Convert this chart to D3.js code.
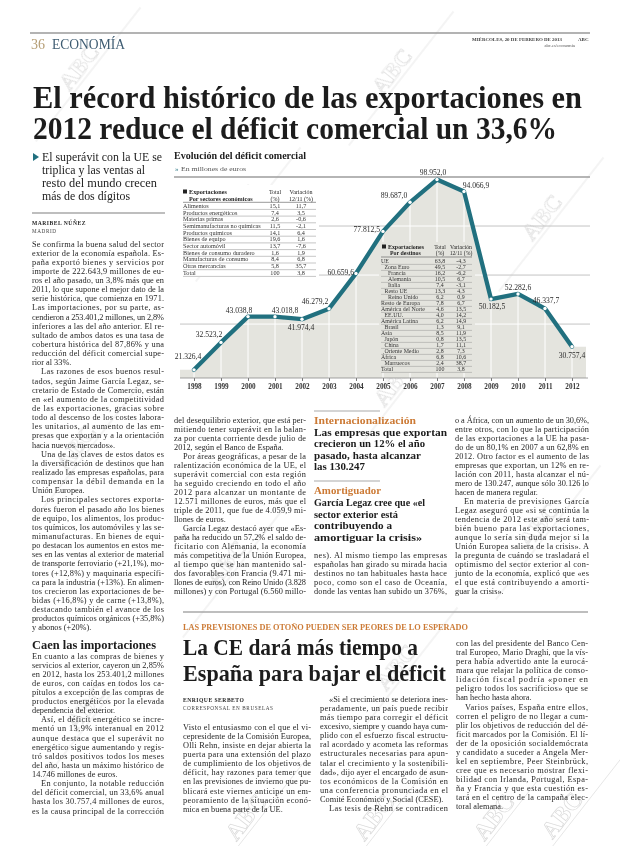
<!DOCTYPE html>
<html><head><meta charset="utf-8">
<script src="https://cdn.jsdelivr.net/npm/d3@7"></script>
<style>html,body{margin:0;padding:0;background:#fff}svg{display:block}</style>
</head><body>
<script>
// ---------------- DATA ----------------
const years = [1998,1999,2000,2001,2002,2003,2004,2005,2006,2007,2008,2009,2010,2011,2012];
const deficit = [21326.4,32523.2,43038.8,43018.8,41974.4,46279.2,60659.6,77812.5,89687.0,98952.0,94066.9,50182.5,52282.6,46337.7,30757.4];
const gridValues = [40000,60000,80000,100000];

const sectors = ["Alimentos","Productos energéticos","Materias primas","Semimanufacturas no químicas","Productos químicos","Bienes de equipo","Sector automóvil","Bienes de consumo duradero","Manufacturas de consumo","Otras mercancías","Total"];
const sectorShare = [15.1,7.4,2.6,11.5,14.1,19.6,13.7,1.6,8.4,5.8,100];
const sectorChange = [11.7,3.5,-0.6,-2.1,6.4,1.6,-7.6,1.9,6.8,35.7,3.8];

const destinations = ["UE","Zona Euro","Francia","Alemania","Italia","Resto UE","Reino Unido","Resto de Europa","América del Norte","EE.UU.","América Latina","Brasil","Asia","Japón","China","Oriente Medio","África","Marruecos","Total"];
const destShare = [63.8,49.5,16.2,10.5,7.4,13.3,6.2,7.8,4.6,4.0,6.2,1.3,8.5,0.8,1.7,2.8,6.8,2.4,100];
const destChange = [-4.3,-2.7,-6.2,6.7,-3.1,4.3,0.9,6.7,13.5,14.2,14.9,9.1,11.9,13.5,11.1,7.3,10.6,38.7,3.8];
const destLevel = [0,1,2,2,2,1,2,0,0,1,0,1,0,1,1,1,0,1,0];

// ---------------- TEXT ----------------
const colLeft1 = [
"Se confirma la buena salud del sector","exterior de la economía española. Es-","paña exportó bienes y servicios por","importe de 222.643,9 millones de eu-","ros el año pasado, un 3,8% más que en","2011, lo que supone el mejor dato de la","serie histórica, que comienza en 1971.","Las importaciones, por su parte, as-","cendieron a 253.401,2 millones, un 2,8%","inferiores a las del año anterior. El re-","sultado de ambos datos es una tasa de","cobertura histórica del 87,86% y una","reducción del déficit comercial supe-","rior al 33%.¶",
">Las razones de esos buenos resul-","tados, según Jaime García Legaz, se-","cretario de Estado de Comercio, están","en «el aumento de la competitividad","de las exportaciones, gracias sobre","todo al descenso de los costes labora-","les unitarios, al aumento de las em-","presas que exportan y a la orientación","hacia nuevos mercados».¶",
">Una de las claves de estos datos es","la diversificación de destinos que han","realizado las empresas españolas, para","compensar la débil demanda en la","Unión Europea.¶",
">Los principales sectores exporta-","dores fueron el pasado año los bienes","de equipo, los alimentos, los produc-","tos químicos, los automóviles y las se-","mimanufacturas. En bienes de equi-","po destacan los aumentos en estos me-","ses en las ventas al exterior de material","de transporte ferroviario (+21,1%), mo-","tores (+12,8%) y maquinaria específi-","ca para la industria (+13%). En alimen-","tos crecieron las exportaciones de be-","bidas (+16,8%) y de carne (+13,8%),","destacando también el avance de los","productos químicos orgánicos (+35,8%)","y abonos (+20%).¶"];
const colLeft2 = [
"En cuanto a las compras de bienes y","servicios al exterior, cayeron un 2,85%","en 2012, hasta los 253.401,2 millones","de euros, con caídas en todos los ca-","pítulos a excepción de las compras de","productos energéticos por la elevada","dependencia del exterior.¶",
">Así, el déficit energético se incre-","mentó un 13,9% interanual en 2012","aunque destaca que el superávit no","energético sigue aumentando y regis-","tró saldos positivos todos los meses","del año, hasta un máximo histórico de","14.746 millones de euros.¶",
">En conjunto, la notable reducción","del déficit comercial, un 33,6% anual","hasta los 30.757,4 millones de euros,","es la causa principal de la corrección"];
const colMid1 = [
"del desequilibrio exterior, que está per-","mitiendo tener superávit en la balan-","za por cuenta corriente desde julio de","2012, según el Banco de España.¶",
">Por áreas geográficas, a pesar de la","ralentización económica de la UE, el","superávit comercial con esta región","ha seguido creciendo en todo el año","2012 para alcanzar un montante de","12.571 millones de euros, más que el","triple de 2011, que fue de 4.059,9 mi-","llones de euros.¶",
">García Legaz destacó ayer que «Es-","paña ha reducido un 57,2% el saldo de-","ficitario con Alemania, la economía","más competitiva de la Unión Europea,","al tiempo que se han mantenido sal-","dos favorables con Francia (9.471 mi-","llones de euros), con Reino Unido (3.828","millones) y con Portugal (6.560 millo-"];
const colMid2 = ["nes). Al mismo tiempo las empresas","españolas han girado su mirada hacia","destinos no tan habituales hasta hace","poco, como son el caso de Oceanía,","donde las ventas han subido un 376%,"];
const colMid3 = [
"o a África, con un aumento de un 30,6%,","entre otros, con lo que la participación","de las exportaciones a la UE ha pasa-","do de un 80,1% en 2007 a un 62,8% en","2012. Otro factor es el aumento de las","empresas que exportan, un 12% en re-","lación con 2011, hasta alcanzar el nú-","mero de 130.247, aunque sólo 30.126 lo","hacen de manera regular.¶",
">En materia de previsiones García","Legaz aseguró que «si se continúa la","tendencia de 2012 este año será tam-","bién bueno para las exportaciones,","aunque lo sería sin duda mejor si la","Unión Europea saliera de la crisis». A","la pregunta de cuándo se trasladará el","optimismo del sector exterior al con-","junto de la economía, explicó que «es","el que está contribuyendo a amorti-","guar la crisis».¶"];
const colBotA = ["Visto el entusiasmo con el que el vi-","cepresidente de la Comisión Europea,","Olli Rehn, insiste en dejar abierta la","puerta para una extensión del plazo","de cumplimiento de los objetivos de","déficit, hay razones para temer que","en las previsiones de invierno que pu-","blicará este viernes anticipe un em-","peoramiento de la situación econó-","mica en buena parte de la UE.¶"];
const colBotB = [">«Si el crecimiento se deteriora ines-","peradamente, un país puede recibir","más tiempo para corregir el déficit","excesivo, siempre y cuando haya cum-","plido con el esfuerzo fiscal estructu-","ral acordado y acometa las reformas","estructurales necesarias para apun-","talar el crecimiento y la sostenibili-","dad», dijo ayer el encargado de asun-","tos económicos de la Comisión en","una conferencia pronunciada en el","Comité Económico y Social (CESE).¶",">Las tesis de Rehn se contradicen"];
const colBotC = ["con las del presidente del Banco Cen-","tral Europeo, Mario Draghi, que la vís-","pera había advertido ante la eurocá-","mara que relajar la política de conso-","lidación fiscal podría «poner en","peligro todos los sacrificios» que se","han hecho hasta ahora.¶",">Varios países, España entre ellos,","corren el peligro de no llegar a cum-","plir los objetivos de reducción del dé-","ficit marcados por la Comisión. El lí-","der de la oposición socialdemócrata","y candidato a suceder a Angela Mer-","kel en septiembre, Peer Steinbrück,","cree que es necesario mostrar flexi-","bilidad con Irlanda, Portugal, Espa-","ña y Francia y que esta cuestión es-","tará en el centro de la campaña elec-","toral alemana.¶"];

// ---------------- SETUP ----------------
const serif = "'Liberation Serif','Times New Roman',serif";
const W = 620, H = 846;
const svg = d3.select("body").append("svg").attr("width", W).attr("height", H)
  .style("font-family", serif);
const ink = "#262626", teal = "#21707f", orange = "#cc7a35", grey = "#a9a9a9";
const fmt = v => v === 100 ? "100" : v.toFixed(1).replace(".", ",");
const fmtBig = v => d3.format(",.1f")(v).replace(/,/g, "#").replace(".", ",").replace(/#/g, ".");

function txt(g, x, y, s, o = {}) {
  const t = g.append("text").attr("x", x).attr("y", y).text(s)
    .attr("font-size", o.size || 8).attr("fill", o.fill || ink);
  if (o.weight) t.attr("font-weight", o.weight);
  if (o.anchor) t.attr("text-anchor", o.anchor);
  if (o.len) t.attr("textLength", o.len).attr("lengthAdjust", o.adj || "spacingAndGlyphs");
  if (o.ls) t.attr("letter-spacing", o.ls);
  return t;
}
function column(x, y0, w, lh, lines, size = 8.3) {
  const g = svg.append("g");
  lines.forEach((raw, i) => {
    let s = raw, ind = 0, last = false;
    if (s.startsWith(">")) { s = s.slice(1); ind = 9; }
    if (s.endsWith("¶")) { s = s.slice(0, -1); last = true; }
    const t = txt(g, x + ind, y0 + i * lh, s, { size });
    if (!last) t.attr("textLength", w - ind).attr("lengthAdjust", "spacing");
  });
  return g;
}

// ---------------- WATERMARKS ----------------
const marks = [[85,72],[398,76],[548,222],[245,212],[400,388],[82,452],[232,568],[92,712],[402,672],[545,530],[252,822],[380,822],[500,822],[568,820]];
const wm = svg.append("g").attr("opacity", 0.5);
marks.forEach(([mx, my]) => {
  const g = wm.append("g").attr("transform", `translate(${mx},${my}) rotate(-52)`);
  g.append("line").attr("x1", -85).attr("x2", 85).attr("y1", 4).attr("y2", 4)
    .attr("stroke", "#bdbdbd").attr("stroke-width", 0.7);
  g.append("text").text("ABC").attr("text-anchor", "middle").attr("font-size", 24)
    .attr("font-weight", "bold").attr("fill", "none").attr("stroke", "#b5b5b5").attr("stroke-width", 0.7);
});

// ---------------- HEADER ----------------
svg.append("line").attr("x1", 30).attr("x2", 590).attr("y1", 33).attr("y2", 33).attr("stroke", "#9a9a9a").attr("stroke-width", 1.6);
txt(svg, 31, 49, "36", { size: 14, fill: "#b59d74" });
txt(svg, 52, 49, "ECONOMÍA", { size: 14, fill: "#3e5c72", len: 73 });
txt(svg, 472, 41, "MIÉRCOLES, 20 DE FEBRERO DE 2013", { size: 4.8, weight: "bold", len: 90, fill: "#444" });
txt(svg, 578, 41, "ABC", { size: 5, weight: "bold", fill: "#444" });
txt(svg, 575, 47, "abc.es/economia", { size: 4.6, anchor: "end", fill: "#555" });

txt(svg, 33, 108, "El récord histórico de las exportaciones en", { size: 32, weight: "bold", len: 549, fill: "#1c1c1c" });
txt(svg, 33, 138.5, "2012 reduce el déficit comercial un 33,6%", { size: 32, weight: "bold", len: 524, fill: "#1c1c1c" });

// sub-headline
svg.append("path").attr("d", "M33,153 L39,157 L33,161 Z").attr("fill", teal);
[["El superávit con la UE se",120],["triplica y las ventas al",103],["resto del mundo crecen",115],["más de dos dígitos",88]]
  .forEach(([s, l], i) => txt(svg, 42, 161 + i * 13, s, { size: 13.2, len: l, fill: "#222" }));
svg.append("line").attr("x1", 32).attr("x2", 165).attr("y1", 213).attr("y2", 213).attr("stroke", grey).attr("stroke-width", 1.4);
txt(svg, 32, 224.5, "MARIBEL NÚÑEZ", { size: 5.6, weight: "bold", ls: 0.5 });
txt(svg, 32, 232.5, "MADRID", { size: 5.2, ls: 0.6, fill: "#444" });

// ---------------- LEFT COLUMN ----------------
column(32, 246.5, 132, 9.14, colLeft1);
txt(svg, 32, 648.5, "Caen las importaciones", { size: 12.5, weight: "bold", len: 124, fill: "#1c1c1c" });
column(32, 658.5, 132, 9.12, colLeft2);

// ---------------- CHART ----------------
const chart = svg.append("g");
txt(chart, 174, 159, "Evolución del déficit comercial", { size: 10, weight: "bold", len: 132, fill: "#1c1c1c" });
txt(chart, 175, 170.5, "»", { size: 7, fill: teal });
txt(chart, 181, 170.5, "En millones de euros", { size: 6.5, fill: "#555", len: 65 });

const x = d3.scalePoint().domain(years).range([194, 572]);
const y = d3.scaleLinear().domain([18000, 100000]).range([378, 177]);
const plotL = 180, plotR = 588, base = y(y.domain()[0]);

// grid (grey on white)
chart.append("g").selectAll("line").data(gridValues).join("line")
  .attr("x1", d => d === 100000 ? 174 : plotL).attr("x2", 590).attr("y1", d => y(d)).attr("y2", d => y(d))
  .attr("stroke", d => d === 100000 ? "#9c9c9c" : "#c4c4c4").attr("stroke-width", d => d === 100000 ? 1.3 : 1);

// area padded to the plot edges at the first/last values
const areaPts = [[plotL, deficit[0]], ...deficit.map((d, i) => [x(years[i]), d]), [plotR - 2, deficit[deficit.length - 1]]];
const area = d3.area().x(d => d[0]).y0(base).y1(d => y(d[1]));
chart.append("path").attr("d", area(areaPts)).attr("fill", "#e4e4de");
svg.append("clipPath").attr("id", "areaClip").append("path").attr("d", area(areaPts));
const inner = chart.append("g").attr("clip-path", "url(#areaClip)");
inner.selectAll("line.h").data(gridValues).join("line").attr("class", "h")
  .attr("x1", plotL).attr("x2", plotR).attr("y1", d => y(d)).attr("y2", d => y(d))
  .attr("stroke", "#fff").attr("stroke-width", 1);
inner.selectAll("line.v").data(years).join("line").attr("class", "v")
  .attr("x1", d => x(d)).attr("x2", d => x(d)).attr("y1", 170).attr("y2", base)
  .attr("stroke", "#fff").attr("stroke-width", 1);

// x axis
const xAxis = chart.append("g").attr("transform", `translate(0,${base})`)
  .call(d3.axisBottom(x).tickSize(3).tickPadding(3));
xAxis.select(".domain").remove();
xAxis.selectAll(".tick line").attr("stroke", "#777");
xAxis.selectAll(".tick text").attr("font-family", serif).attr("font-size", 7.2)
  .attr("font-weight", "bold").attr("fill", "#333");
chart.append("line").attr("x1", plotL).attr("x2", plotR)
  .attr("y1", base).attr("y2", base).attr("stroke", "#8a8a8a").attr("stroke-width", 0.8);

// table 1: by sector (white panel)
const t1 = chart.append("g");
t1.append("rect").attr("x", 180).attr("y", 185).attr("width", 139).attr("height", 92).attr("fill", "#fff");
t1.append("rect").attr("x", 183).attr("y", 189.5).attr("width", 4).attr("height", 4).attr("fill", "#222");
txt(t1, 189, 194, "Exportaciones", { size: 6.2, weight: "bold" });
txt(t1, 189, 200.5, "Por sectores económicos", { size: 6.2, weight: "bold" });
txt(t1, 275, 194, "Total", { size: 6, anchor: "middle" });
txt(t1, 275, 200.5, "(%)", { size: 6, anchor: "middle" });
txt(t1, 301, 194, "Variación", { size: 6, anchor: "middle" });
txt(t1, 301, 200.5, "12/11 (%)", { size: 6, anchor: "middle" });
const r1 = 6.7, t1y = 207.8;
t1.append("line").attr("x1", 183).attr("x2", 316).attr("y1", 202.3).attr("y2", 202.3).attr("stroke", "#555").attr("stroke-width", 0.6);
sectors.forEach((s, i) => {
  const yy = t1y + i * r1;
  txt(t1, 183, yy, s, { size: 6.2, fill: "#333" });
  txt(t1, 275, yy, fmt(sectorShare[i]), { size: 6.2, anchor: "middle", fill: "#333" });
  txt(t1, 301, yy, fmt(sectorChange[i]), { size: 6.2, anchor: "middle", fill: "#333" });
  t1.append("line").attr("x1", 183).attr("x2", 316).attr("y1", yy + 1.6).attr("y2", yy + 1.6)
    .attr("stroke", "#8d8d8d").attr("stroke-width", 0.5);
});

// table 2: by destination (sits in grey area)
const t2 = chart.append("g");
t2.append("rect").attr("x", 379).attr("y", 242).attr("width", 96).attr("height", 131).attr("fill", "#e4e4de");
t2.append("rect").attr("x", 382).attr("y", 244.5).attr("width", 4).attr("height", 4).attr("fill", "#222");
txt(t2, 388, 249, "Exportaciones", { size: 5.9, weight: "bold" });
txt(t2, 390, 255.3, "Por destinos", { size: 5.9, weight: "bold" });
txt(t2, 440, 249, "Total", { size: 5.7, anchor: "middle" });
txt(t2, 440, 255.3, "(%)", { size: 5.7, anchor: "middle" });
txt(t2, 461, 249, "Variación", { size: 5.7, anchor: "middle" });
txt(t2, 461, 255.3, "12/11 (%)", { size: 5.7, anchor: "middle" });
t2.append("line").attr("x1", 381).attr("x2", 472).attr("y1", 257).attr("y2", 257).attr("stroke", "#555").attr("stroke-width", 0.6);
const r2 = 6.0, t2y = 263;
destinations.forEach((s, i) => {
  const yy = t2y + i * r2;
  txt(t2, 381 + destLevel[i] * 3.5, yy, s, { size: 5.9, fill: "#333" });
  txt(t2, 440, yy, fmt(destShare[i]), { size: 5.9, anchor: "middle", fill: "#333" });
  txt(t2, 461, yy, fmt(destChange[i]), { size: 5.9, anchor: "middle", fill: "#333" });
  t2.append("line").attr("x1", 381).attr("x2", 472).attr("y1", yy + 1.4).attr("y2", yy + 1.4)
    .attr("stroke", "#8d8d8d").attr("stroke-width", 0.45);
});

// line + markers
const line = d3.line().x((d, i) => x(years[i])).y(d => y(d));
chart.append("path").attr("d", line(deficit)).attr("fill", "none").attr("stroke", teal)
  .attr("stroke-width", 4.3).attr("stroke-linejoin", "round").attr("stroke-linecap", "round");
chart.selectAll("circle.pt").data(deficit).join("circle").attr("class", "pt")
  .attr("cx", (d, i) => x(years[i])).attr("cy", d => y(d)).attr("r", 1.7).attr("fill", "#fff");

// value labels (offsets relative to each point)
const labDx = [-6, -12, -9, 10, -1, -14, -2, -3, -16, -4, 12, 1, 0, 1, 0];
const labDy = [-11, -5, -4, -4, 11, -5, 2, 1, -4, -5, -4, 10, -4, -6, 11];
const labAnchor = ["middle","middle","middle","middle","middle","middle","end","end","middle","middle","middle","middle","middle","middle","middle"];
chart.selectAll("text.val").data(deficit).join("text").attr("class", "val")
  .attr("x", (d, i) => x(years[i]) + labDx[i]).attr("y", d => y(d))
  .attr("dy", (d, i) => labDy[i]).attr("text-anchor", (d, i) => labAnchor[i])
  .attr("font-size", 7.6).attr("fill", "#2a2a2a").text(d => fmtBig(d));

// ---------------- BELOW CHART ----------------
column(174, 423, 132, 9.02, colMid1);
// sidebars
const sb = svg.append("g");
sb.append("line").attr("x1", 314).attr("x2", 380).attr("y1", 411).attr("y2", 411).attr("stroke", grey).attr("stroke-width", 1.2);
txt(sb, 314, 423.5, "Internacionalización", { size: 11, weight: "bold", fill: orange, len: 102 });
[["Las empresas que exportan",133],["crecieron un 12% el año",111],["pasado, hasta alcanzar",107],["las 130.247",51]]
  .forEach(([s, l], i) => txt(sb, 314, 435.5 + i * 11.5, s, { size: 11.4, weight: "bold", len: l, fill: "#1c1c1c" }));
sb.append("line").attr("x1", 314).attr("x2", 380).attr("y1", 481).attr("y2", 481).attr("stroke", grey).attr("stroke-width", 1.2);
txt(sb, 314, 494, "Amortiguador", { size: 11, weight: "bold", fill: orange, len: 67 });
[["García Legaz cree que «el",111],["sector exterior está",84],["contribuyendo a",78],["amortiguar la crisis»",108]]
  .forEach(([s, l], i) => txt(sb, 314, 506 + i * 11.5, s, { size: 11.4, weight: "bold", len: l, fill: "#1c1c1c" }));
column(314, 558, 133, 9.02, colMid2);
column(455, 423, 134, 9.02, colMid3);

// ---------------- BOTTOM STORY ----------------
svg.append("line").attr("x1", 183).attr("x2", 588).attr("y1", 612).attr("y2", 612).attr("stroke", grey).attr("stroke-width", 1.4);
txt(svg, 183, 630, "LAS PREVISIONES DE OTOÑO PUEDEN SER PEORES DE LO ESPERADO", { size: 7.6, weight: "bold", fill: orange, len: 285 });
txt(svg, 183, 655, "La CE dará más tiempo a", { size: 24, weight: "bold", len: 235, fill: "#1c1c1c" });
txt(svg, 183, 681, "España para bajar el déficit", { size: 24, weight: "bold", len: 263, fill: "#1c1c1c" });
txt(svg, 183, 701.5, "ENRIQUE SERBETO", { size: 5.6, weight: "bold", ls: 0.5 });
txt(svg, 183, 709.5, "CORRESPONSAL EN BRUSELAS", { size: 5.2, ls: 0.6, fill: "#444" });
column(183, 730, 128, 9.08, colBotA);
column(320, 702, 128, 9.08, colBotB);
column(456, 646, 132, 9.08, colBotC);
</script>
</body></html>
